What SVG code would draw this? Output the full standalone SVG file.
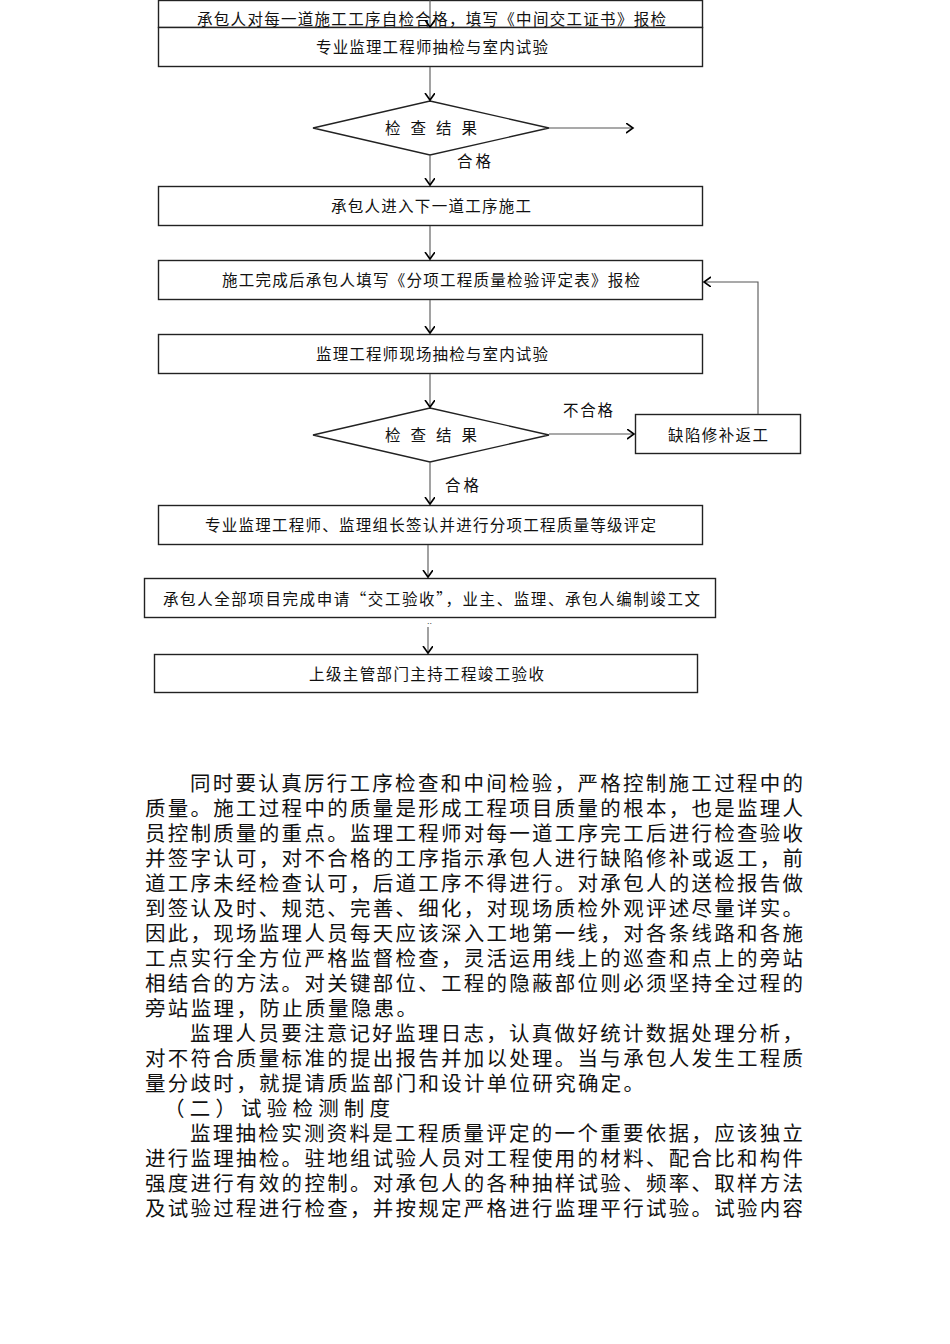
<svg xmlns="http://www.w3.org/2000/svg" width="950" height="1344" viewBox="0 0 950 1344">
<style>
.box{fill:#fff;stroke:#222;stroke-width:1.4}
.lbl{font-family:"Noto Sans CJK SC","Liberation Serif",serif;font-size:15.5px;fill:#111}
.par{font-family:"Noto Sans CJK SC","Liberation Serif",serif;font-size:20.5px;fill:#111}
.con{fill:none;stroke:#555;stroke-width:1.1}
</style>
<defs>
<marker id="ar" markerUnits="userSpaceOnUse" markerWidth="12" markerHeight="12" refX="7" refY="5" orient="auto">
<path d="M0,0 L7,5 L0,10" fill="none" stroke="#000" stroke-width="1.6"/>
</marker>
</defs>
<rect x="0" y="0" width="950" height="1344" fill="#fff"/>

<g id="n1"><rect class="box" x="158.5" y="0.5" width="544" height="27"/>
<text class="lbl" x="197" y="25" textLength="469" lengthAdjust="spacing">承包人对每一道施工工序自检合格，填写《中间交工证书》报检</text></g>
<g id="n2"><rect class="box" x="158.5" y="27.5" width="544" height="39"/>
<text class="lbl" x="316" y="53" textLength="232" lengthAdjust="spacing">专业监理工程师抽检与室内试验</text></g>
<g id="d1"><polygon class="box" points="430,101 549,128 430,155 313,128"/>
<text class="lbl" x="385" y="134" textLength="92" lengthAdjust="spacing">检 查 结 果</text></g>
<g id="n3"><rect class="box" x="158.5" y="186.5" width="544" height="39"/>
<text class="lbl" x="331" y="212" textLength="200" lengthAdjust="spacing">承包人进入下一道工序施工</text></g>
<g id="n4"><rect class="box" x="158.5" y="260.5" width="544" height="39"/>
<text class="lbl" x="222" y="286" textLength="418" lengthAdjust="spacing">施工完成后承包人填写《分项工程质量检验评定表》报检</text></g>
<g id="n5"><rect class="box" x="158.5" y="334.5" width="544" height="39"/>
<text class="lbl" x="316" y="360" textLength="232" lengthAdjust="spacing">监理工程师现场抽检与室内试验</text></g>
<g id="d2"><polygon class="box" points="430,408 549,435 430,462 313,435"/>
<text class="lbl" x="385" y="441" textLength="92" lengthAdjust="spacing">检 查 结 果</text></g>
<g id="n9"><rect class="box" x="635.5" y="414.5" width="165" height="39"/>
<text class="lbl" x="668" y="441" textLength="100" lengthAdjust="spacing">缺陷修补返工</text></g>
<g id="n6"><rect class="box" x="158.5" y="505.5" width="544" height="39"/>
<text class="lbl" x="205" y="531" textLength="451" lengthAdjust="spacing">专业监理工程师、监理组长签认并进行分项工程质量等级评定</text></g>
<g id="n7"><rect class="box" x="144.5" y="578.5" width="571" height="39"/>
<text class="lbl" x="163" y="605" textLength="537" lengthAdjust="spacing">承包人全部项目完成申请“交工验收”，业主、监理、承包人编制竣工文</text>
<text x="427" y="624" font-family="Liberation Sans,sans-serif" font-size="9" fill="#444">..</text></g>
<g id="n8"><rect class="box" x="154.5" y="654.5" width="543" height="38"/>
<text class="lbl" x="309" y="680" textLength="235" lengthAdjust="spacing">上级主管部门主持工程竣工验收</text></g>

<g id="connectors">
<line class="con" x1="430" y1="0" x2="430" y2="27" marker-end="url(#ar)"/>
<line class="con" x1="430" y1="67" x2="430" y2="100" marker-end="url(#ar)"/>
<line class="con" x1="549" y1="128" x2="633" y2="128" marker-end="url(#ar)"/>
<line class="con" x1="430" y1="155" x2="430" y2="185" marker-end="url(#ar)"/>
<line class="con" x1="430" y1="226" x2="430" y2="259" marker-end="url(#ar)"/>
<line class="con" x1="430" y1="300" x2="430" y2="333" marker-end="url(#ar)"/>
<line class="con" x1="430" y1="374" x2="430" y2="407" marker-end="url(#ar)"/>
<line class="con" x1="549" y1="434" x2="634" y2="434" marker-end="url(#ar)"/>
<polyline class="con" points="758,414 758,282 704,282" marker-end="url(#ar)"/>
<line class="con" x1="430" y1="462" x2="430" y2="504" marker-end="url(#ar)"/>
<line class="con" x1="428" y1="545" x2="428" y2="577" marker-end="url(#ar)"/>
<line class="con" x1="428" y1="627" x2="428" y2="653" marker-end="url(#ar)"/>
<text class="lbl" x="457" y="167" textLength="34" lengthAdjust="spacing">合格</text>
<text class="lbl" x="563" y="416" textLength="50" lengthAdjust="spacing">不合格</text>
<text class="lbl" x="445" y="491" textLength="34" lengthAdjust="spacing">合格</text>
</g>

<g id="body">
<text class="par" x="190" y="791" textLength="613" lengthAdjust="spacing">同时要认真厉行工序检查和中间检验，严格控制施工过程中的</text>
<text class="par" x="145" y="816" textLength="658" lengthAdjust="spacing">质量。施工过程中的质量是形成工程项目质量的根本，也是监理人</text>
<text class="par" x="145" y="841" textLength="658" lengthAdjust="spacing">员控制质量的重点。监理工程师对每一道工序完工后进行检查验收</text>
<text class="par" x="145" y="866" textLength="658" lengthAdjust="spacing">并签字认可，对不合格的工序指示承包人进行缺陷修补或返工，前</text>
<text class="par" x="145" y="891" textLength="658" lengthAdjust="spacing">道工序未经检查认可，后道工序不得进行。对承包人的送检报告做</text>
<text class="par" x="145" y="916" textLength="658" lengthAdjust="spacing">到签认及时、规范、完善、细化，对现场质检外观评述尽量详实。</text>
<text class="par" x="145" y="941" textLength="658" lengthAdjust="spacing">因此，现场监理人员每天应该深入工地第一线，对各条线路和各施</text>
<text class="par" x="145" y="966" textLength="658" lengthAdjust="spacing">工点实行全方位严格监督检查，灵活运用线上的巡查和点上的旁站</text>
<text class="par" x="145" y="991" textLength="658" lengthAdjust="spacing">相结合的方法。对关键部位、工程的隐蔽部位则必须坚持全过程的</text>
<text class="par" x="145" y="1016" textLength="272" lengthAdjust="spacing">旁站监理，防止质量隐患。</text>
<text class="par" x="190" y="1041" textLength="613" lengthAdjust="spacing">监理人员要注意记好监理日志，认真做好统计数据处理分析，</text>
<text class="par" x="145" y="1066" textLength="658" lengthAdjust="spacing">对不符合质量标准的提出报告并加以处理。当与承包人发生工程质</text>
<text class="par" x="145" y="1091" textLength="499" lengthAdjust="spacing">量分歧时，就提请质监部门和设计单位研究确定。</text>
<text class="par" x="164" y="1116" textLength="226" lengthAdjust="spacing">（二）试验检测制度</text>
<text class="par" x="190" y="1141" textLength="613" lengthAdjust="spacing">监理抽检实测资料是工程质量评定的一个重要依据，应该独立</text>
<text class="par" x="145" y="1166" textLength="658" lengthAdjust="spacing">进行监理抽检。驻地组试验人员对工程使用的材料、配合比和构件</text>
<text class="par" x="145" y="1191" textLength="658" lengthAdjust="spacing">强度进行有效的控制。对承包人的各种抽样试验、频率、取样方法</text>
<text class="par" x="145" y="1216" textLength="658" lengthAdjust="spacing">及试验过程进行检查，并按规定严格进行监理平行试验。试验内容</text>
</g>
</svg>
